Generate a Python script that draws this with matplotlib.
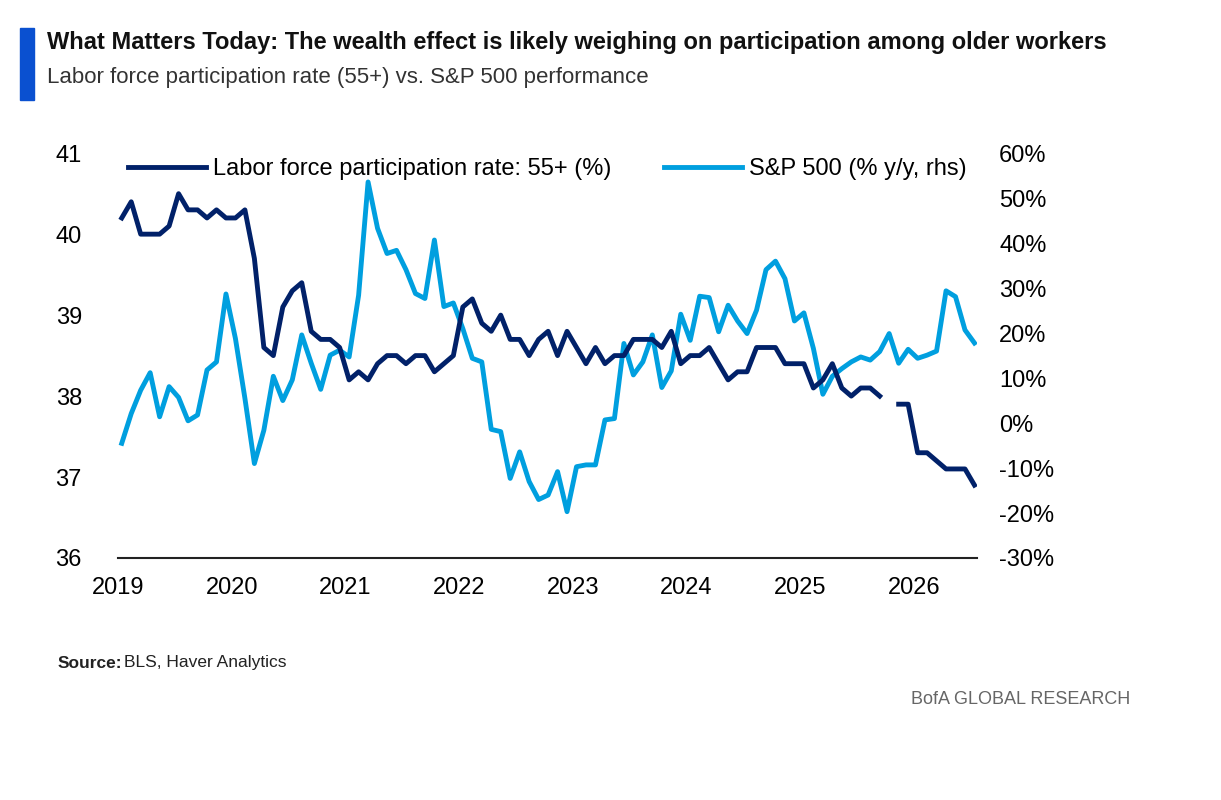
import numpy as np
import matplotlib
matplotlib.use("Agg")
from matplotlib import pyplot as plt
from matplotlib.patches import Rectangle

# monthly data, Jan 2019 onward
lfpr = [40.2, 40.4, 40.0, 40.0, 40.0, 40.1, 40.5, 40.3, 40.3, 40.2, 40.3, 40.2,
        40.2, 40.3, 39.7, 38.6, 38.5, 39.1, 39.3, 39.4, 38.8, 38.7, 38.7, 38.6,
        38.2, 38.3, 38.2, 38.4, 38.5, 38.5, 38.4, 38.5, 38.5, 38.3, 38.4, 38.5,
        39.1, 39.2, 38.9, 38.8, 39.0, 38.7, 38.7, 38.5, 38.7, 38.8, 38.5,
        38.8, 38.6, 38.4, 38.6, 38.4, 38.5, 38.5, 38.7, 38.7, 38.7, 38.6, 38.8,
        38.4, 38.5, 38.5, 38.6, 38.4, 38.2, 38.3, 38.3, 38.6, 38.6, 38.6, 38.4,
        38.4, 38.4, 38.1, 38.2, 38.4, 38.1, 38.0, 38.1, 38.1, 38.0, np.nan,
        37.9, 37.9, 37.3, 37.3, 37.2, 37.1, 37.1, 37.1, 36.9]
spx = [-4.5, 2.1, 7.3, 11.2, 1.4, 8.1, 5.7, 0.5, 1.8, 11.8, 13.6, 28.7,
       18.8, 5.5, -9.0, -1.6, 10.4, 5.0, 9.6, 19.6, 13.3, 7.5, 15.1, 16.2,
       14.7, 28.4, 53.6, 43.3, 37.7, 38.4, 34.1, 28.8, 27.7, 40.7, 25.9, 26.7,
       21.0, 14.4, 13.6, -1.4, -1.9, -12.3, -6.4, -13.0, -17.0, -16.0, -10.8,
       -19.7, -9.7, -9.3, -9.3, 0.7, 1.0, 17.7, 10.7, 13.6, 19.6, 7.9, 11.6,
       24.2, 18.4, 28.2, 27.9, 20.3, 26.2, 22.7, 19.9, 25.1, 34.1, 36.0, 32.1,
       22.7, 24.5, 16.6, 6.4, 10.4, 12.1, 13.6, 14.7, 14.0, 15.9, 19.9, 13.3,
       16.4, 14.4, 15.1, 16.0, 29.4, 28.1, 20.7, 17.8]
years = list(range(2019, 2027))

x = 2019 + (np.arange(len(lfpr)) + 0.4) / 12.0

navy = "#012169"
light = "#009FDF"
fam = ["Liberation Sans Narrow", "Liberation Sans", "DejaVu Sans"]

fig = plt.figure(figsize=(12.21, 8), dpi=100)
ax = fig.add_axes([0.0966, 0.3025, 0.7035, 0.506])
ax2 = ax.twinx()

l1, = ax.plot(x, lfpr, color=navy, lw=3.5, label="Labor force participation rate: 55+ (%)", zorder=3)
l2, = ax2.plot(x, spx, color=light, lw=3.5, label="S&P 500 (% y/y, rhs)", zorder=2)
ax.set_zorder(ax2.get_zorder() + 1)
ax.patch.set_visible(False)

ax.set_xlim(2019, 2026.555)
ax.set_ylim(36, 41)
ax2.set_ylim(-30, 60)
ax.set_xticks(years)
ax.set_xticklabels([str(y) for y in years], family=fam, fontsize=17)
ax.set_yticks(range(36, 42))
ax.set_yticklabels([str(v) for v in range(36, 42)], family=fam, fontsize=17)
ax2.set_yticks(range(-30, 61, 10))
ax2.set_yticklabels([f"{v}%" for v in range(-30, 61, 10)], family=fam, fontsize=17)
for a in (ax, ax2):
    for s in a.spines.values():
        s.set_visible(False)
    a.tick_params(length=0)
ax.spines["bottom"].set_visible(True)
ax.spines["bottom"].set_color("#222222")
ax.spines["bottom"].set_linewidth(1.5)
ax.tick_params(axis="x", pad=14)
ax.tick_params(axis="y", pad=26)
ax2.tick_params(axis="y", pad=16)

leg = ax.legend(handles=[l1, l2], loc="upper center", bbox_to_anchor=(0.5, 1.04), ncol=2,
                frameon=False, prop={"family": fam, "size": 17}, handlelength=3.3,
                columnspacing=2.2, handletextpad=0.3)

fig.patches.append(Rectangle((20 / 1221, 1 - 100 / 800), 14 / 1221, 72 / 800,
                             transform=fig.transFigure, color="#0A50D0"))
fig.text(47 / 1221, 1 - 42 / 800, "What Matters Today: The wealth effect is likely weighing on participation among older workers",
         family=fam, fontsize=17, weight="bold", va="center", color="#111111")
fig.text(47 / 1221, 1 - 78 / 800, "Labor force participation rate (55+) vs. S&P 500 performance",
         family=fam, fontsize=16, va="center", color="#333333")
fig.text(58 / 1221, 1 - 663 / 800, "Source:", family=fam, fontsize=12.5,
         weight="bold", va="center", color="#222222")
fig.text(124 / 1221, 1 - 663 / 800, "BLS, Haver Analytics",
         family=fam, fontsize=12.5, va="center", color="#222222")
fig.text(1130 / 1221, 1 - 700 / 800, "BofA GLOBAL RESEARCH",
         family=fam, fontsize=13, va="center", ha="right", color="#666666")

fig.savefig("out.png", dpi=100)
